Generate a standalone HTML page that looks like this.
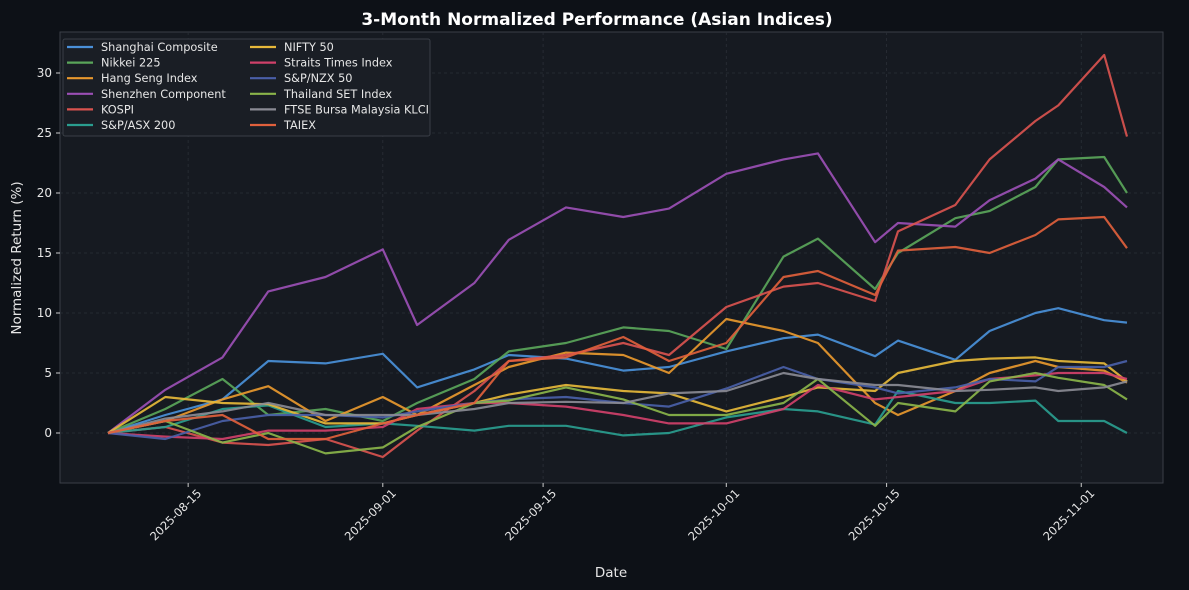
<!DOCTYPE html>
<html><head><meta charset="utf-8"><style>
html,body{margin:0;padding:0;background:#0d1117;}
svg{display:block;font-family:"DejaVu Sans","Liberation Sans",sans-serif;}
</style></head><body>
<svg id="chart" width="1189" height="590" viewBox="0 0 1189 590">
<rect x="0" y="0" width="1189" height="590" fill="#0d1117"/>
<rect x="60" y="32" width="1103" height="451" fill="#161a21" stroke="#3a3f47" stroke-width="1"/>
<text x="597" y="25" text-anchor="middle" fill="#ffffff" font-size="17" font-weight="bold">3-Month Normalized Performance (Asian Indices)</text>
<text x="611" y="577" text-anchor="middle" fill="#e6e6e6" font-size="13.5">Date</text>
<text transform="translate(21,258) rotate(-90)" text-anchor="middle" fill="#e6e6e6" font-size="13.5">Normalized Return (%)</text>
<g id="grid"></g><g id="axes"></g><g id="lines"></g><g id="legend"></g>
</svg>
<script>
const dates=["2025-08-08","2025-08-13","2025-08-18","2025-08-22","2025-08-27","2025-09-01","2025-09-04","2025-09-09","2025-09-12","2025-09-17","2025-09-22","2025-09-26","2025-10-01","2025-10-06","2025-10-09","2025-10-14","2025-10-16","2025-10-21","2025-10-24","2025-10-28","2025-10-30","2025-11-03","2025-11-05"];
const seriesNames=["Shanghai Composite","Nikkei 225","Hang Seng Index","Shenzhen Component","KOSPI","S&P/ASX 200","NIFTY 50","Straits Times Index","S&P/NZX 50","Thailand SET Index","FTSE Bursa Malaysia KLCI","TAIEX"];
const shanghai=[0,1.5,2.8,6,5.8,6.6,3.8,5.3,6.5,6.2,5.2,5.5,6.8,7.9,8.2,6.4,7.7,6.1,8.5,10,10.4,9.4,9.2];
const nikkei=[0,2,4.5,1.5,2,1,2.5,4.5,6.8,7.5,8.8,8.5,7,14.7,16.2,12,15,17.9,18.5,20.5,22.8,23,20];
const hangSeng=[0,1,2.8,3.9,1,3,1.5,4,5.5,6.7,6.5,5,9.5,8.5,7.5,2.5,1.5,3.5,5,6,5.5,5.2,4.2];
const shenzhen=[0,3.6,6.3,11.8,13,15.3,9,12.5,16.1,18.8,18,18.7,21.6,22.8,23.3,15.9,17.5,17.2,19.4,21.2,22.8,20.5,18.8];
const kospi=[0,0.5,-0.8,-1,-0.5,-2,0.2,3.5,6,6.5,7.5,6.5,10.5,12.2,12.5,11,16.8,19,22.8,26,27.3,31.5,24.7];
const asx=[0,0.5,2,2.3,0.5,0.8,0.6,0.2,0.6,0.6,-0.2,0,1.3,2,1.8,0.7,3.5,2.5,2.5,2.7,1,1,0];
const nifty=[0,3,2.5,2.4,0.8,0.8,1.5,2.5,3.2,4,3.5,3.3,1.8,3,3.8,3.5,5,6,6.2,6.3,6,5.8,4.3];
const straits=[0,-0.3,-0.5,0.2,0.2,0.5,2,2.5,2.5,2.2,1.5,0.8,0.8,2,4,2.8,3,3.5,4.5,4.8,5,5,4.5];
const nzx=[0,-0.5,1,1.5,1.5,1.3,1.8,2.5,2.8,3,2.5,2.2,3.7,5.5,4.5,3.8,3.3,3.8,4.5,4.3,5.5,5.5,6];
const thailand=[0,1,-0.8,0,-1.7,-1.2,0.5,2.5,2.7,3.8,2.8,1.5,1.5,2.5,4.5,0.6,2.5,1.8,4.3,5,4.6,4,2.8];
const klci=[0,1.2,1.8,2.5,1.5,1.5,1.5,2,2.5,2.6,2.5,3.3,3.5,5,4.5,4,4,3.5,3.6,3.8,3.5,3.8,4.3];
const taiex=[0,1,1.5,-0.5,-0.5,0.8,1.5,2.5,6,6.3,8,6,7.5,13,13.5,11.5,15.2,15.5,15,16.5,17.8,18,15.4];
const yTicks=[0,5,10,15,20,25,30];
const xTickLabels=["2025-08-15","2025-09-01","2025-09-15","2025-10-01","2025-10-15","2025-11-01"];
const colors=["#4a90d9","#5aa55a","#e8982e","#9b4fb5","#d9534f","#2a9d8f","#e6b83a","#d0406a","#4a5fa8","#8ab44a","#8a8a94","#e0603c"];
const allSeries=[shanghai,nikkei,hangSeng,shenzhen,kospi,asx,nifty,straits,nzx,thailand,klci,taiex];
const NS="http://www.w3.org/2000/svg";
const t0=Date.parse("2025-08-08");
function xScale(d){return 108+(Date.parse(d)-t0)/86400000*11.45;}
function yScale(v){return 433-v*12;}
function mk(tag,attrs,parent){const e=document.createElementNS(NS,tag);for(const k in attrs)e.setAttribute(k,attrs[k]);parent.appendChild(e);return e;}
const grid=document.getElementById('grid'),axes=document.getElementById('axes'),lines=document.getElementById('lines'),legend=document.getElementById('legend');
yTicks.forEach(v=>{const y=yScale(v);
 const g=mk('line',{x1:60,x2:1163,y1:y,y2:y,stroke:'#2a2f37','stroke-width':0.8,'stroke-dasharray':'3,3'},grid);
 
 
 const tk=mk('line',{x1:56,x2:60,y1:y,y2:y,stroke:'#cccccc'},axes);
 
 
 const t=mk('text',{x:52,y:y+4,'text-anchor':'end',fill:'#e6e6e6','font-size':12},axes);t.textContent=v;
 
 
});
xTickLabels.forEach(d=>{const x=xScale(d);
 const g=mk('line',{x1:x,x2:x,y1:32,y2:483,stroke:'#2a2f37','stroke-width':0.8,'stroke-dasharray':'3,3'},grid);
 
 
 const tk=mk('line',{x1:x,x2:x,y1:483,y2:487,stroke:'#cccccc'},axes);
 
 
 const ax=x+14,ay=494;
 const t=mk('text',{x:ax,y:ay,'text-anchor':'end',fill:'#e6e6e6','font-size':11.5,transform:`rotate(-45 ${ax} ${ay})`},axes);t.textContent=d;
 
 
});
allSeries.forEach((s,i)=>{
 const pts=s.map((v,j)=>xScale(dates[j]).toFixed(1)+','+yScale(v).toFixed(1)).join(' ');
 const p=mk('polyline',{points:pts,fill:'none',stroke:colors[i],'stroke-width':2.2,'stroke-linejoin':'round',opacity:0.92},lines);
 
 
});
const box=mk('rect',{x:63,y:39,width:367,height:97,fill:'#1a1e25',stroke:'#3a3f47',rx:2},legend);


seriesNames.forEach((n,i)=>{
 const col=i<6?0:1,row=i%6;const x=67+col*183,y=47+row*15.6;
 const l=mk('line',{x1:x,x2:x+26,y1:y,y2:y,stroke:colors[i],'stroke-width':2.2},legend);
 
 
 const t=mk('text',{x:x+34,y:y+4,fill:'#e6e6e6','font-size':11.3},legend);t.textContent=n;
 
 
});
</script>
</body></html>
